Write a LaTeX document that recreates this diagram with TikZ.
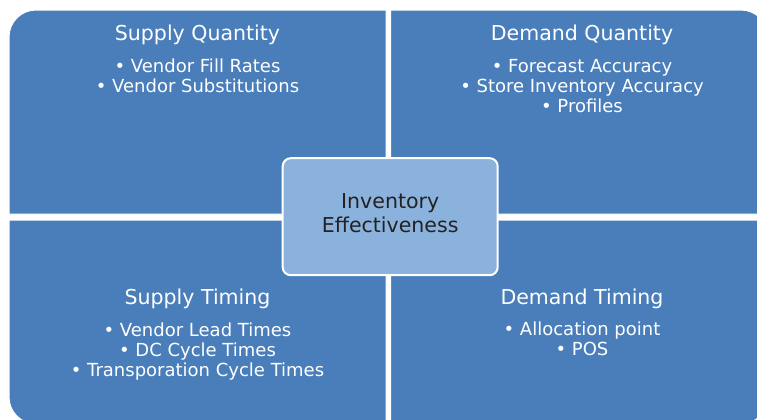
\documentclass[tikz,border=0pt]{standalone}
\usepackage{fontspec}
\setmainfont{DejaVu Sans}
\usepackage{xcolor}
\definecolor{quadblue}{HTML}{4A7EBB}
\definecolor{coreblue}{HTML}{8BB2DC}
\definecolor{coreink}{HTML}{222222}
\usepackage{tikz}
\usetikzlibrary{positioning}
\tikzset{
  quad/.style={fill=quadblue, draw=white, line width=0.75pt},
  quadtitle/.style={anchor=base, white, font=\fontsize{15.4}{18}\selectfont},
  % anchored on the baseline of the last item
  quaditems/.style={anchor=base, white, align=center,
                    font=\fontsize{13.5}{15}\selectfont},
  corebox/.style={rounded corners=6pt, fill=coreblue, draw=white,
                  line width=1.5pt, minimum width=161.25pt,
                  minimum height=87.75pt, inner sep=0pt, align=center,
                  text=coreink, font=\fontsize{15.4}{18}\selectfont},
}

\begin{document}
\begin{tikzpicture}[x=0.75pt, y=0.75pt]
  \clip (0,0) rectangle (757,419);

  % Quadrants, each rounded on its outer corner only
  \draw[quad] (386,205) -- (9,205) -- (9,382)
    arc[start angle=180, end angle=90, radius=20.25pt] -- (386,409) -- cycle;
  \draw[quad] (390.5,205) -- (390.5,409) -- (741,409)
    arc[start angle=90, end angle=0, radius=20.25pt] -- (768,205) -- cycle;
  \draw[quad] (386,199) -- (9,199) -- (9,22)
    arc[start angle=180, end angle=270, radius=20.25pt] -- (386,-5) -- cycle;
  \draw[quad] (390.5,199) -- (768,199) -- (768,22)
    arc[start angle=0, end angle=-90, radius=20.25pt] -- (390.5,-5) -- cycle;

  % Supply quantity (top left)
  \node[quadtitle] (sqtitle) at (197.5,379) {Supply Quantity};
  \node[quaditems] (sqitems) at (197.5,327)
    {• Vendor Fill Rates\\• Vendor Substitutions};

  % Demand quantity (top right)
  \node[quadtitle] (dqtitle) at (582,379) {Demand Quantity};
  \node[quaditems] (dqitems) at (582,307)
    {• Forecast Accuracy\\• Store Inventory Accuracy\\• Profiles};

  % Supply timing (bottom left)
  \node[quadtitle] (sttitle) at (197.5,115) {Supply Timing};
  \node[quaditems] (stitems) at (197.5,43)
    {• Vendor Lead Times\\• DC Cycle Times\\• Transporation Cycle Times};

  % Demand timing (bottom right)
  \node[quadtitle] (dttitle) at (582,115) {Demand Timing};
  \node[quaditems] (dtitems) at (582,64)
    {• Allocation point\\• POS};

  % Centre box
  \node[corebox] (core) at (390.2,202.3) {Inventory\\Effectiveness\strut};
\end{tikzpicture}
\end{document}
